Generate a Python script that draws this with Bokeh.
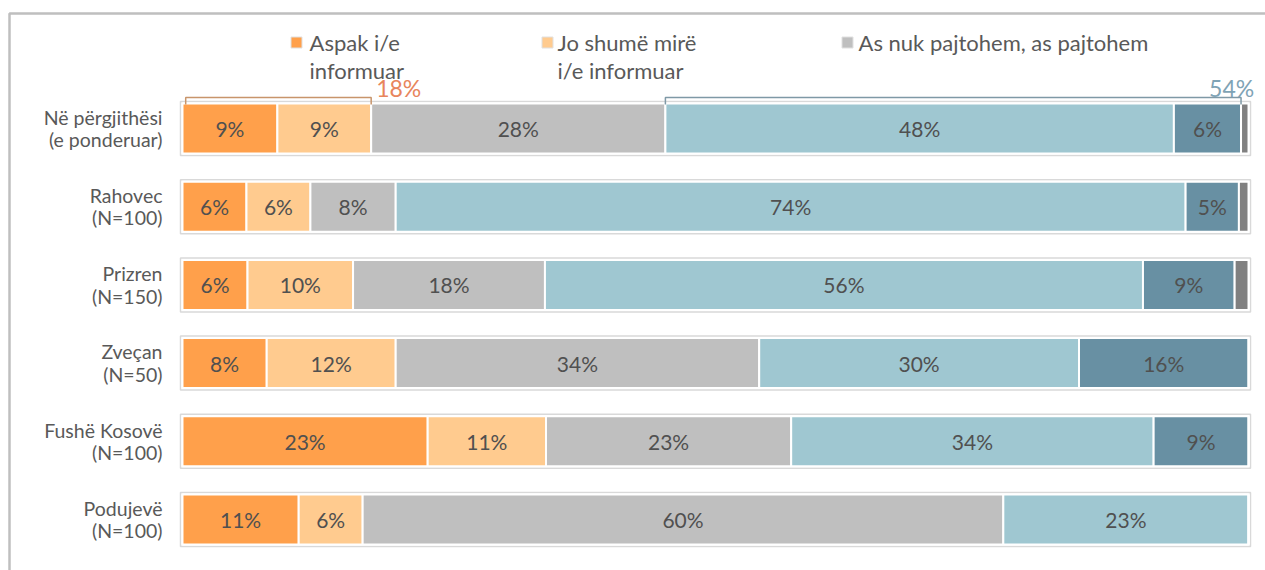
from bokeh.plotting import figure
from bokeh.models import Range1d
from bokeh.core.properties import value
from bokeh.embed import file_html
from bokeh.resources import INLINE

# ---------------- data ----------------
categories = ["Në përgjithësi\n(e ponderuar)", "Rahovec\n(N=100)", "Prizren\n(N=150)",
              "Zveçan\n(N=50)", "Fushë Kosovë\n(N=100)", "Podujevë\n(N=100)"]
legend_labels = ["Aspak i/e\ninformuar", "Jo shumë mirë\ni/e informuar", "As nuk pajtohem, as pajtohem"]
aspak = [8.9, 6.0, 6.1, 7.9, 23.0, 10.9]
jo_shume = [8.8, 6.0, 9.9, 12.1, 11.1, 6.0]
as_nuk = [27.6, 8.0, 18.0, 34.1, 23.0, 60.1]
mire = [47.7, 74.1, 56.1, 30.0, 34.0, 23.0]
shume_mire = [6.3, 5.0, 8.6, 15.9, 8.9, 0.0]
nuk_e_di = [0.7, 0.9, 1.3, 0.0, 0.0, 0.0]
series = [aspak, jo_shume, as_nuk, mire, shume_mire, nuk_e_di]
colors = ["#FFA04B", "#FFCB8F", "#BFBFBF", "#9FC7D1", "#6890A3", "#808080"]

FONT = "Lato"
W, H = 1265, 570
OFF = 0  # observed page offset of the figure
# layout helpers (page pixel -> data coordinates)
X0, PX100 = 182.0, 1066.0
Y0, ROWSTEP = 128.0, 78.2
def xd(px):
    return (px - X0) * 100.0 / PX100
def yd(py):
    return (py - Y0) / ROWSTEP
def dx(n):
    return n * 100.0 / PX100
def dy(n):
    return n / ROWSTEP

p = figure(width=W, height=H, output_backend="svg", toolbar_location=None,
           x_range=Range1d(xd(OFF), xd(OFF + W)), y_range=Range1d(yd(OFF + H), yd(OFF)),
           min_border=0)
p.axis.visible = False
p.grid.visible = False
p.outline_line_color = None
p.background_fill_color = "white"

rows = list(range(len(categories)))
BH = dy(50)

# outer frame lines
p.line(x=[xd(9), xd(9), xd(1300)], y=[yd(600), yd(13), yd(13)], line_color="#BFBFBF", line_width=2.5)

# row boxes
p.rect(x=[50] * len(rows), y=rows, width=100 + dx(4), height=BH + dy(4),
       fill_color=None, line_color="#D9D9D9", line_width=1.5)

# stacked bars
left = [0.0] * len(rows)
lx, ly, lt = [], [], []
for vals, col in zip(series, colors):
    right = [l + v for l, v in zip(left, vals)]
    p.hbar(y=rows, left=left, right=right, height=BH, fill_color=col,
           line_color="white", line_width=2)
    for i, v in enumerate(vals):
        if v >= 3:
            lx.append((left[i] + right[i]) / 2)
            ly.append(i)
            lt.append(f"{round(v)}%")
    left = right

p.text(x=lx, y=ly, text=lt, text_align="center", text_baseline="middle",
       text_font=value(FONT), text_font_size="21px", text_color="#505050")

# category labels
p.text(x=[xd(162)] * len(rows), y=rows, text=categories, text_align="right",
       text_baseline="middle", text_font=value(FONT), text_font_size="19.5px",
       text_color="#595959", text_line_height=0.97)

# brackets on first row
top_b, tick_b = yd(97), yd(104)
low_sum = aspak[0] + jo_shume[0]
bx0, bx1 = 0.3, low_sum
hi_start = aspak[0] + jo_shume[0] + as_nuk[0]
hi_sum = mire[0] + shume_mire[0]
cx0, cx1 = hi_start, hi_start + hi_sum
p.line(x=[bx0, bx0, bx1, bx1], y=[tick_b, top_b, top_b, tick_b], line_color="#C8956B", line_width=1.5)
p.line(x=[cx0, cx0, cx1, cx1], y=[tick_b, top_b, top_b, tick_b], line_color="#7F99A6", line_width=1.5)
p.text(x=[bx1], y=[yd(101)], text=[f"{round(low_sum)}%"], text_align="left", text_baseline="bottom",
       x_offset=5, text_font=value(FONT), text_font_size="23px", text_color="#E8855C")
p.text(x=[cx1], y=[yd(101)], text=[f"{round(hi_sum)}%"], text_align="left", text_baseline="bottom",
       x_offset=-32, text_font=value(FONT), text_font_size="23px", text_color="#7FA3B5")

# legend (manual)
leg_sq_x = [296, 547, 847]
leg_tx = [309, 557, 858]
p.rect(x=[xd(v) for v in leg_sq_x], y=[yd(42)] * 3, width=dx(11), height=dy(11),
       fill_color=colors[:3], line_color="#E0E0E0", line_width=1)
p.text(x=[xd(v) for v in leg_tx[:2]], y=[yd(56)] * 2, text=legend_labels[:2], text_align="left",
       text_baseline="middle", text_font=value(FONT), text_font_size="22px",
       text_color="#595959", text_line_height=1.07)
p.text(x=[xd(leg_tx[2])], y=[yd(42)], text=legend_labels[2:], text_align="left",
       text_baseline="middle", text_font=value(FONT), text_font_size="22px",
       text_color="#595959")

open("out.html", "w").write(file_html(p, INLINE))
